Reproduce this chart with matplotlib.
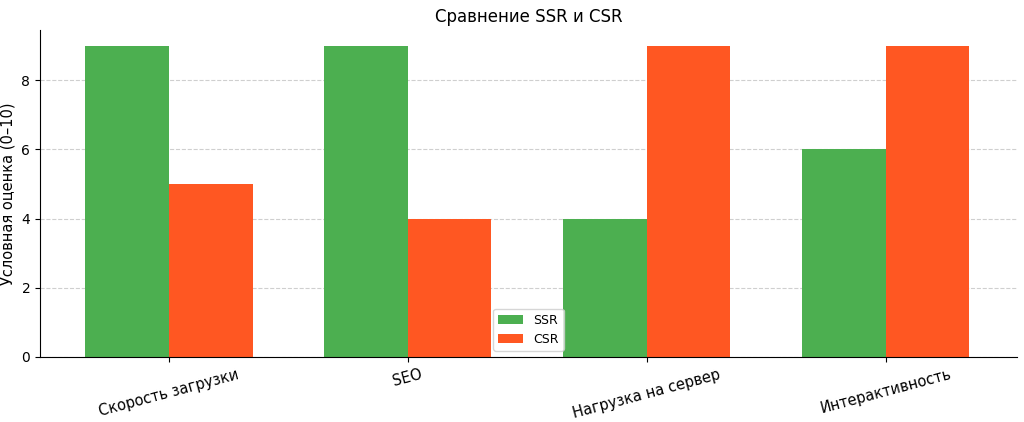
import matplotlib
matplotlib.use("Agg")
import matplotlib.pyplot as plt
import numpy as np

categories = ["Скорость загрузки", "SEO", "Нагрузка на сервер", "Интерактивность"]
ssr = [9, 9, 4, 6]
csr = [5, 4, 9, 9]

fig = plt.figure(figsize=(10.24, 4.22), dpi=100)
ax = fig.add_axes([40/1024, 1-357/422, 977/1024, 327/422])
x = np.arange(len(categories))
w = 0.35
ax.bar(x - w/2, ssr, w, color="#4CAF50", label="SSR", zorder=2)
ax.bar(x + w/2, csr, w, color="#FF5722", label="CSR", zorder=2)
ax.set_xticks(x)
ax.set_xticklabels(categories, rotation=15, fontsize=10.5)
ax.set_ylabel("Условная оценка (0–10)", fontsize=10.5)
ax.set_title("Сравнение SSR и CSR", fontsize=12)
ax.set_ylim(0, 9.45)
ax.set_xlim(-0.54, 3.55)
ax.grid(axis="y", linestyle="--", alpha=0.6, zorder=0)
for s in ["top", "right"]:
    ax.spines[s].set_visible(False)
ax.legend(loc="lower center", fontsize=9)
fig.savefig("out.png", dpi=100)
